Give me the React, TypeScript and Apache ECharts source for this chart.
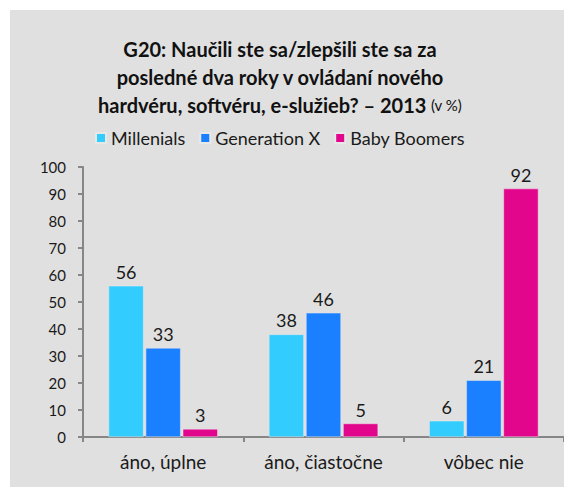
import React, { useEffect, useRef } from "react";
import * as echarts from "echarts";

const categories = ["áno, úplne", "áno, čiastočne", "vôbec nie"];
const seriesNames = ["Millenials", "Generation X", "Baby Boomers"];
const millenials = [56, 38, 6];
const generationX = [33, 46, 21];
const babyBoomers = [3, 5, 92];
const colors = ["#33ccff", "#1a80ff", "#e2068c"];

export default function App() {
  const ref = useRef<HTMLDivElement>(null);
  useEffect(() => {
    if (!ref.current) return;
    const chart = echarts.init(ref.current, null, { renderer: "svg" });
    const font = "Lato, 'Open Sans', sans-serif";
    const values = [millenials, generationX, babyBoomers];
    chart.setOption({
      animation: false,
      backgroundColor: "#e0e0e0",
      textStyle: { fontFamily: font },
      title: {
        left: 265,
        top: 20,
        textAlign: "center",
        text:
          "{b|G20: Naučili ste sa/zlepšili ste sa za}\n{b|posledné dva roky v ovládaní nového}\n{b|hardvéru, softvéru, e-služieb? – 2013} {s|(v %)}",
        textStyle: {
          rich: {
            b: { fontFamily: font, fontWeight: "bold", fontSize: 20, color: "#111", lineHeight: 28 },
            s: { fontFamily: font, fontWeight: "normal", fontSize: 15, color: "#111", lineHeight: 28 },
          },
        },
      },
      legend: {
        top: 119,
        left: 85,
        padding: 0,
        icon: "rect",
        itemWidth: 10,
        itemHeight: 10,
        itemGap: 14,
        textStyle: { fontFamily: font, fontSize: 18, color: "#1a1a1a" },
        data: seriesNames,
      },
      grid: { left: 73, top: 157, width: 486, height: 270, containLabel: false },
      xAxis: {
        type: "category",
        data: categories,
        axisLine: { show: true, lineStyle: { color: "#868686", width: 2 } },
        axisTick: { show: true, length: 5, lineStyle: { color: "#868686", width: 2 } },
        axisLabel: { fontFamily: font, fontSize: 19, color: "#1a1a1a", margin: 15 },
      },
      yAxis: {
        type: "value",
        min: 0,
        max: 100,
        interval: 10,
        axisLine: { show: true, lineStyle: { color: "#868686", width: 2 } },
        axisTick: { show: true, length: 5, lineStyle: { color: "#868686", width: 2 } },
        splitLine: { show: false },
        axisLabel: { fontFamily: font, fontSize: 15, color: "#1a1a1a", margin: 17 },
      },
      series: seriesNames.map((name, i) => ({
        name,
        type: "bar",
        data: values[i],
        barWidth: 35,
        barGap: "6%",
        itemStyle: { color: colors[i], borderColor: "#e8e8e8", borderWidth: 0.5 },
        label: {
          show: true,
          position: "top",
          distance: 5,
          fontFamily: font,
          fontSize: 18,
          color: "#1a1a1a",
        },
      })),
    });
    return () => chart.dispose();
  }, []);
  return (
    <div style={{ position: "absolute", left: 0, top: 0, width: 564, height: 487, background: "#fff", overflow: "hidden" }}>
      <div ref={ref} style={{ position: "absolute", left: 10, top: 10, width: 554, height: 477 }} />
    </div>
  );
}
